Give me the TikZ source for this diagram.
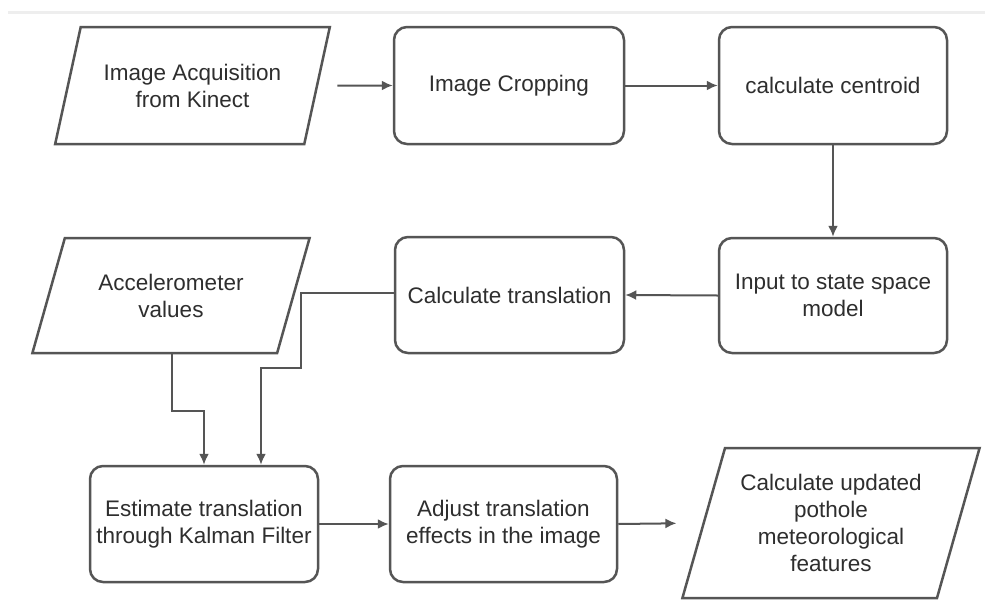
\documentclass[tikz,border=0pt]{standalone}
\usepackage{fontspec}
\setmainfont{Liberation Sans}
\usetikzlibrary{shapes.geometric,arrows.meta,calc}
\definecolor{edge}{HTML}{555555}
\definecolor{wire}{HTML}{555555}
\definecolor{ink}{HTML}{2E2E2E}
\definecolor{rule}{HTML}{EEEEEE}
\tikzset{
  base/.style={draw=edge, line width=2.5pt, fill=white, text=ink, align=center,
    font=\fontsize{22.5pt}{27pt}\selectfont, inner sep=0pt},
  procbox/.style={base, rectangle, rounded corners=13pt},
  iobox/.style={base, trapezium, trapezium stretches=true},
  flow/.style={draw=wire, line width=2pt, -{Latex[length=11pt,width=10pt]}},
}
\begin{document}
\begin{tikzpicture}[x=1pt,y=-1pt]
\useasboundingbox (0,0) rectangle (985,600);
\fill[white] (0,0) rectangle (985,600);
% header rule
\draw[rule, line width=3pt] (8,12) -- (985,12);

% top row
\node[iobox, trapezium left angle=65, trapezium right angle=115,
      minimum width=275pt, minimum height=117pt] (acq) at (192.5,85.5)
      {Image Acquisition\\from Kinect};
\node[procbox, minimum width=230pt, minimum height=117pt] (crop) at (509,85.5)
      {Image Cropping};
\node[procbox, minimum width=228pt, minimum height=117pt] (cent) at (833,85.5)
      {calculate centroid};

% middle row
\node[iobox, trapezium left angle=63, trapezium right angle=117,
      minimum width=278pt, minimum height=115pt] (acc) at (171,295.5)
      {Accelerometer\\values};
\node[procbox, minimum width=229pt, minimum height=116pt] (trans) at (509.5,295)
      {Calculate translation};
\node[procbox, minimum width=228pt, minimum height=115pt] (ssm) at (833,295.5)
      {Input to state space\\model};

% bottom row
\node[procbox, minimum width=228pt, minimum height=116pt] (kal) at (204,524)
      {Estimate translation\\through Kalman Filter};
\node[procbox, minimum width=227pt, minimum height=116pt] (adj) at (503.5,524)
      {Adjust translation\\effects in the image};
\node[iobox, trapezium left angle=69.5, trapezium right angle=110.5,
      minimum width=298pt, minimum height=150pt] (feat) at (831,523)
      {Calculate updated\\pothole\\meteorological\\features};

% connectors
\draw[flow, shorten <=19pt] (acq.east) -- (crop.west);
\draw[flow] (crop.east) -- (cent.west);
\draw[flow] (cent.south) -- (ssm.north);
\draw[flow] (ssm.west) -- (trans.east);
\draw[flow] ([yshift=2pt]trans.west) -- ++(-93,0) -- ++(0,75) -| ([xshift=57pt]kal.north);
\draw[flow] ([xshift=1pt]acc.south) -- ++(0,57) -| (kal.north);
\draw[flow] (kal.east) -- (adj.west);
\draw[flow, shorten >=26pt] (adj.east) -- (feat.west);
\end{tikzpicture}
\end{document}
